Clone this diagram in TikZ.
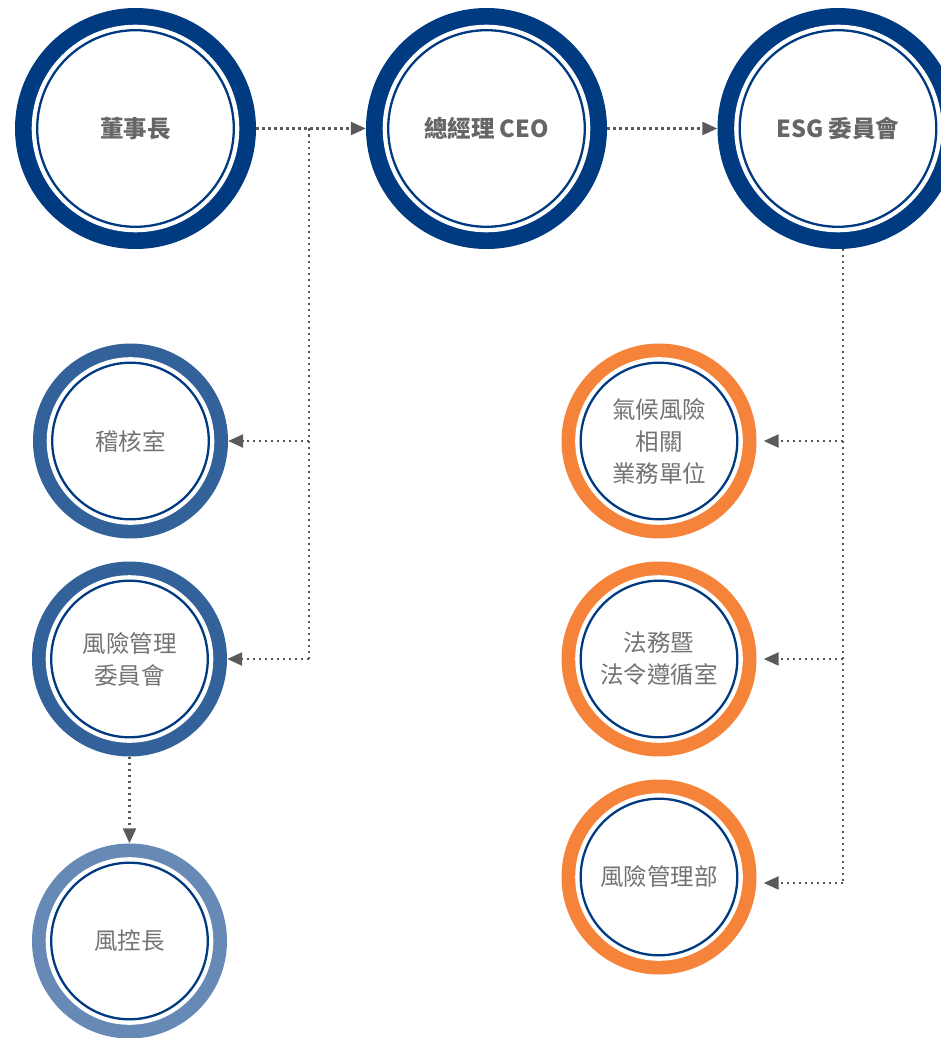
\documentclass[tikz,border=0pt]{standalone}
\usepackage{fontspec}
\setmainfont{Noto Sans CJK TC}
\usetikzlibrary{arrows.meta,backgrounds}
\definecolor{navy}{HTML}{003A80}
\definecolor{midblue}{HTML}{336199}
\definecolor{lightblue}{HTML}{6689B5}
\definecolor{orangec}{HTML}{F5843A}
\definecolor{textgray}{HTML}{666666}
\definecolor{textgraylight}{HTML}{737373}
\definecolor{linegray}{HTML}{5A5A5A}
\tikzset{
  big/.style={circle, inner sep=0pt, minimum size=241pt, text=textgray, align=center, font=\bfseries\fontsize{23.5}{31}\selectfont},
  small/.style={circle, inner sep=0pt, minimum size=195pt, text=textgraylight, align=center, font=\fontsize{23.5}{32}\selectfont},
  link/.style={draw=linegray, line width=2.4pt, dash pattern=on 2.4pt off 3.6pt},
  linkarrow/.style={link, -{Triangle[length=15pt,width=13pt]}},
}
% ring drawing: center node, outer radius, white radius, thin radius, colour
\newcommand\ringdraw[5]{%
  \fill[#5] (#1.center) circle (#2pt);
  \fill[white] (#1.center) circle (#3pt);
  \draw[navy, line width=2.3pt] (#1.center) circle (#4pt);
}
\begin{document}
\begin{tikzpicture}[x=1pt,y=-1pt]
\useasboundingbox (0,0) rectangle (941,1038);
\clip (0,0) rectangle (941,1038);

\node[big] (chair) at (135.5,128.5) {董事長};
\node[big] (ceo) at (486.5,128.5) {總經理 CEO};
\node[big] (esg) at (838,128.5) {ESG 委員會};

\node[small] (audit) at (130.5,441) {稽核室};
\node[small] (riskcom) at (129.5,659) {風險管理\\委員會};
\node[small] (cro) at (129.5,941) {風控長};

\node[small] (climate) at (659,441) {氣候風險\\相關\\業務單位};
\node[small] (legal) at (659,659) {法務暨\\法令遵循室};
\node[small] (riskdept) at (659,877) {風險管理部};

\begin{pgfonlayer}{background}
  \ringdraw{chair}{120.5}{103.8}{98.3}{navy}
  \ringdraw{ceo}{120.5}{103.8}{98.3}{navy}
  \ringdraw{esg}{120.5}{103.8}{98.3}{navy}
  \ringdraw{audit}{97.5}{83.8}{78.3}{midblue}
  \ringdraw{riskcom}{97.5}{83.8}{78.3}{midblue}
  \ringdraw{cro}{97.5}{83.8}{78.3}{lightblue}
  \ringdraw{climate}{97.5}{83.8}{78.3}{orangec}
  \ringdraw{legal}{97.5}{83.8}{78.3}{orangec}
  \ringdraw{riskdept}{97.5}{83.8}{78.3}{orangec}
\end{pgfonlayer}

% left branch
\coordinate (j1) at (309,128.5);
\coordinate (j1a) at (309,441);
\coordinate (j1b) at (309,659);
\draw[linkarrow] (chair.east) -- (ceo.west);
\draw[link] (j1) -- (j1b);
\draw[linkarrow] (j1a) -- (audit.east);
\draw[linkarrow] (j1b) -- (riskcom.east);
\draw[linkarrow] (riskcom.south) -- (cro.north);

% right branch
\draw[linkarrow] (ceo.east) -- (esg.west);
\coordinate (j2) at (843,249);
\coordinate (j2a) at (843,441);
\coordinate (j2b) at (843,659);
\coordinate (j2c) at (843,883);
\draw[link] (j2) -- (j2c);
\draw[linkarrow, shorten >=7pt] (j2a) -- (climate.east);
\draw[linkarrow, shorten >=7pt] (j2b) -- (legal.east);
\draw[linkarrow, shorten >=7pt] (j2c) -- (j2c -| riskdept.east);
\end{tikzpicture}
\end{document}
